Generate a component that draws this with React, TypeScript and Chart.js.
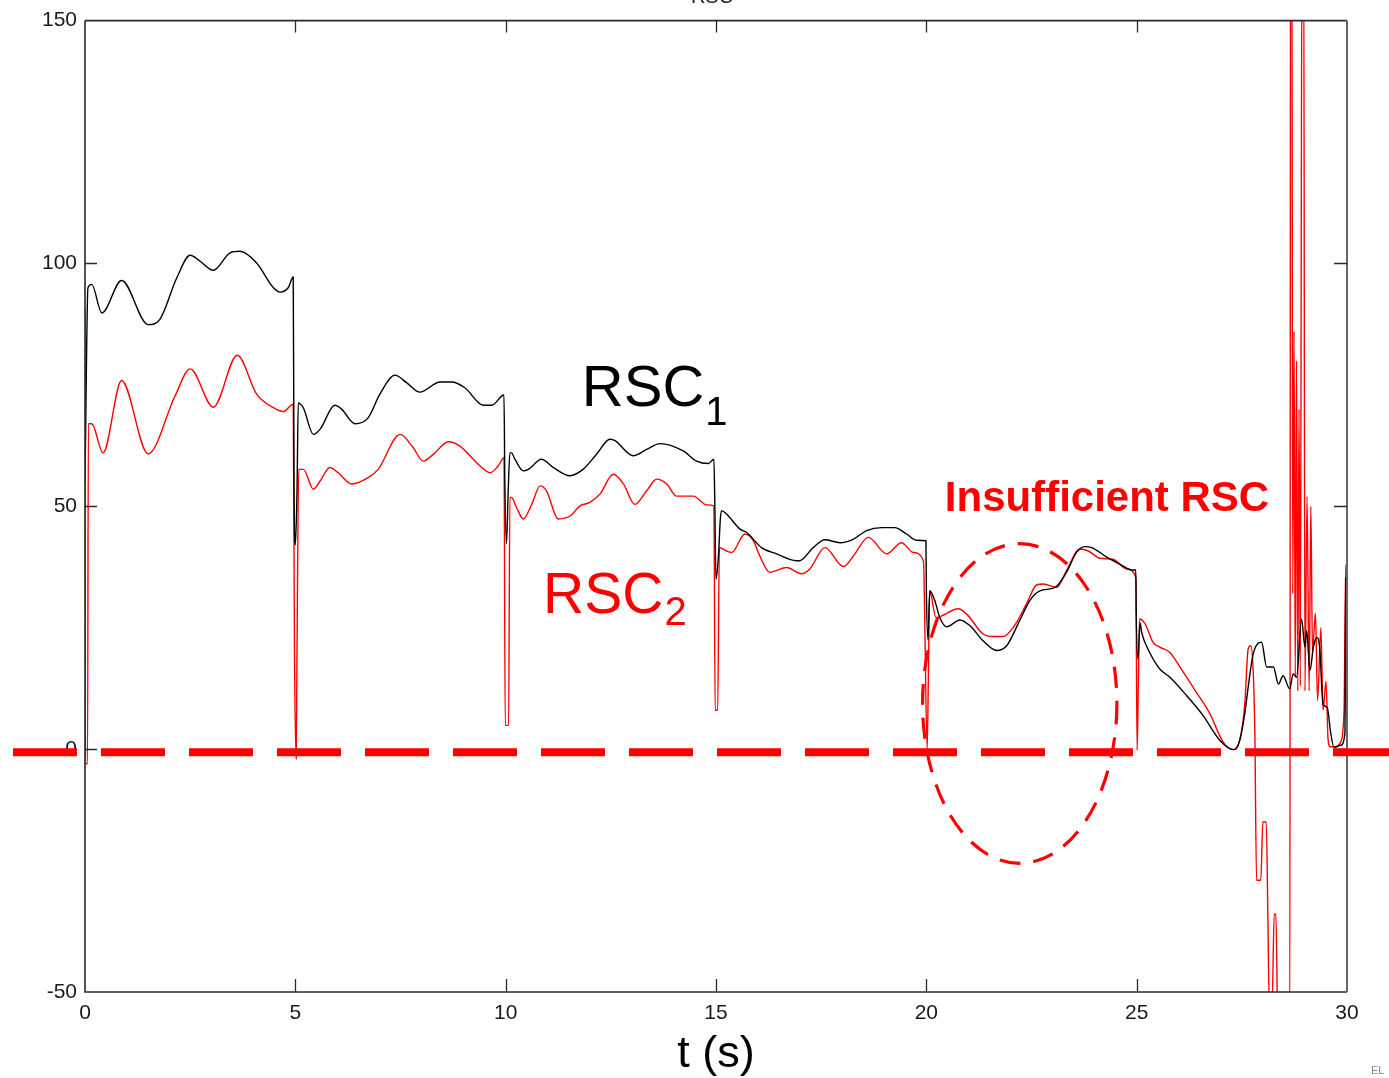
import React, { useEffect, useRef } from 'react';
import { Chart, registerables } from 'chart.js';

Chart.register(...registerables);

// ---- Data ----
const xTickValues = [0, 5, 10, 15, 20, 25, 30];
const yTickValues = [-50, 0, 50, 100, 150];

const rsc1T = [
  0, 0.07, 0.16, 0.40, 0.87, 1.50, 1.78, 2.18, 2.50, 2.73, 3.05, 3.45, 3.68, 4.08, 4.48, 4.64, 4.83, 4.95,
  4.97, 5.00, 5.04, 5.07, 5.11, 5.19, 5.43, 5.59, 5.94, 6.10, 6.42, 6.73, 7.01, 7.37, 7.65, 7.96, 8.44, 8.72,
  9.03, 9.47, 9.67, 9.96, 9.98, 10.02, 10.06, 10.10, 10.14, 10.22, 10.42, 10.54, 10.85, 11.13, 11.53, 11.84,
  12.16, 12.48, 12.60, 13.03, 13.35, 13.67, 14.22, 14.54, 14.82, 14.95, 14.97, 15.00, 15.06, 15.10, 15.13,
  15.25, 15.57, 15.73, 16.08, 16.44, 16.91, 16.99, 17.31, 17.59, 17.95, 18.26, 18.58, 18.94, 19.25, 19.53,
  19.77, 19.99, 20.00, 20.04, 20.08, 20.20, 20.32, 20.48, 20.80, 21.04, 21.35, 21.67, 21.91, 22.22, 22.46,
  22.70, 23.06, 23.33, 23.57, 23.77, 23.93, 24.28, 24.60, 24.88, 24.98, 24.99, 25.03, 25.08, 25.12, 25.31,
  25.55, 25.79, 26.19, 26.58, 26.98, 27.30, 27.45, 27.57, 27.65, 27.77, 27.97, 28.09, 28.25, 28.37, 28.48,
  28.64, 28.72, 28.80, 28.92, 29.00, 29.04, 29.12, 29.20, 29.29, 29.35, 29.43, 29.53, 29.61, 29.69, 29.85,
  29.95, 29.97, 30.00,
];
const rsc1V = [
  55, 95, 95.7, 89.8, 96.5, 87.4, 88.5, 97.0, 101.7, 100.5, 98.6, 102.2, 102.5, 100.1, 95.0, 94.1, 95.0, 97.2,
  53.2, 42, 53, 71.3, 71.1, 70.3, 64.8, 65.9, 70.8, 70.0, 67.0, 68.2, 73.1, 77.0, 75.4, 73.5, 75.6, 75.6,
  74.4, 70.8, 70.8, 72.9, 55.2, 42.3, 53, 61, 61.0, 59.7, 57.3, 57.6, 59.7, 58.0, 56.3, 57.6,
  60.7, 63.8, 63.5, 60.4, 61.7, 62.9, 61.4, 59.3, 58.8, 59.7, 51.5, 35, 40, 47, 49.1,
  48.4, 45.3, 44.6, 41.5, 40.2, 38.8, 38.8, 41.5, 43.1, 42.5, 43.2, 45.0, 45.6, 45.6, 44.3,
  43.0, 42.9, 33.3, 22.5, 32.6, 30.6, 27.1, 25.2, 26.6, 25.4, 22.3, 20.3, 21.3, 26.5, 30.6,
  32.6, 33.3, 36.4, 40.5, 41.7, 41.5, 39.6, 38.1, 36.9, 36.9, 27.9, 18.5, 26, 24.0, 19.9,
  16.5, 14.8, 11.0, 6.9, 1.8, -0.1, 1.8, 7.3, 12.7, 19.6, 22.0, 16.9, 16.9, 13.4, 15.1,
  12.4, 15.5, 14.8, 26.8, 21.0, 24.4, 16.2, 21.0, 23.0, 21.0, 9.3, 8.6, 3.5, 0.4, 0.8,
  3.2, 35.4, -6,
];

const rsc2T = [
  0, 0.01, 0.06, 0.08, 0.16, 0.43, 0.87, 1.50, 2.14, 2.50, 3.05, 3.62, 4.08, 4.48, 4.71, 4.95,
  4.98, 5.02, 5.04, 5.08, 5.19, 5.43, 5.59, 5.82, 6.02, 6.34, 6.73, 6.97, 7.49, 7.80, 8.04, 8.28, 8.64, 8.91,
  9.39, 9.63, 9.82, 9.96, 9.99, 10.07, 10.10, 10.14, 10.26, 10.42, 10.62, 10.82, 10.97, 11.25, 11.53, 11.77,
  12.00, 12.24, 12.56, 12.80, 13.07, 13.35, 13.59, 13.83, 14.06, 14.46, 14.78, 14.95, 14.98, 15.04, 15.08,
  15.25, 15.37, 15.69, 15.89, 16.04, 16.28, 16.68, 17.03, 17.23, 17.59, 18.03, 18.30, 18.62, 19.06, 19.41,
  19.69, 19.93, 20.02, 20.05, 20.08, 20.23, 20.76, 20.96, 21.35, 21.59, 21.83, 22.07, 22.38, 22.62, 22.78,
  23.10, 23.33, 23.65, 23.85, 24.13, 24.44, 24.76, 24.98, 25.01, 25.04, 25.07, 25.20, 25.39, 25.55, 25.79,
  26.03, 26.42, 26.74, 27.06, 27.30, 27.45, 27.57, 27.65, 27.71, 27.77, 27.81, 27.85, 27.95, 28.00, 28.08,
  28.12, 28.15, 28.22, 28.27, 28.31, 28.36, 28.64, 28.66, 28.69, 28.71, 28.74, 28.77, 28.80, 28.83, 28.86,
  28.89, 28.93, 28.97, 29.00, 29.05, 29.10, 29.14, 29.18, 29.25, 29.30, 29.38, 29.43, 29.50, 29.55, 29.60,
  29.75, 29.85, 29.93, 29.97, 30.00,
];
const rsc2V = [
  90.5, -3, -3, 67, 67, 61, 75.9, 60.8, 72.7, 78.3, 70.4, 81.1, 73.1, 70.3, 69.5, 71.0,
  20, -2, 20, 57.6, 57.6, 53.5, 55.2, 58.0, 56.9, 54.6, 55.9, 57.6, 64.8, 62.1, 59.3, 60.7, 63.3, 62.4,
  58.3, 56.9, 58.3, 60.0, 4.9, 4.9, 51.8, 51.8, 49.7, 47.4, 50.4, 54.2, 53.2, 47.4, 48.0, 50.1,
  50.8, 52.5, 56.6, 54.6, 50.4, 53.2, 55.6, 54.6, 52.1, 52.1, 50.3, 50.1, 8.0, 8.0, 41.5,
  40.8, 40.5, 44.3, 42.9, 39.8, 36.4, 37.4, 36.1, 37.1, 41.5, 37.6, 40.2, 43.6, 40.2, 42.5,
  40.5, 38.8, 0, 16, 32.5, 27.1, 28.9, 27.8, 23.7, 23.2, 23.2, 25.1, 29.9, 33.8, 34.0,
  33.3, 36.7, 41.2, 40.8, 39.3, 39.1, 37.1, 35.4, -0.2, 13.5, 26.8, 25.8, 22.0, 21.0, 19.9,
  16.9, 11.7, 7.3, 1.4, -0.1, 1.8, 9.3, 20.6, 21.3, 16.2, 3, -27, -27, -15, -15,
  -35, -52, -52, -34, -34, -60, -60, 170, 170, 32, 86, 15, 80, 12, 70,
  13, 170, 170, 12, 52, 12, 50, 20, 28, 10, 25, 8, 14, 2, 0.5,
  0.5, 1.5, 8, 38, 38,
];

// annotation anchors (data units)
const rsc1Label = { t: 11.81, v: 70.6 };
const rsc2Label = { t: 10.89, v: 28.1 };
const insufficientLabel = { t: 20.44, v: 49.1 };
const ellipse = { t: 22.22, v: 9.4, rt: 2.31, rv: 32.9 };
const thresholdValue = 0;

const FONT = '"Liberation Sans", Arial, sans-serif';

const overlayPlugin = {
  id: 'overlay',
  afterDraw(chart: any) {
    const { ctx, chartArea: a, scales } = chart;
    const x = scales.x;
    const y = scales.y;
    ctx.save();

    // frame (box)
    ctx.strokeStyle = '#2a2a2a';
    ctx.lineWidth = 1.6;
    ctx.beginPath();
    ctx.moveTo(a.left, a.top);
    ctx.lineTo(a.right, a.top);
    ctx.moveTo(a.left, a.top);
    ctx.lineTo(a.left, a.bottom);
    ctx.lineTo(a.right, a.bottom);
    ctx.stroke();
    ctx.strokeStyle = '#666';
    ctx.lineWidth = 2;
    ctx.beginPath();
    ctx.moveTo(a.right, a.top);
    ctx.lineTo(a.right, a.bottom);
    ctx.stroke();

    // inward ticks
    ctx.strokeStyle = '#2a2a2a';
    ctx.lineWidth = 1.3;
    ctx.beginPath();
    for (const t of xTickValues) {
      const px = Math.round(x.getPixelForValue(t)) + 0.5;
      if (px <= a.left + 2 || px >= a.right - 2) continue;
      ctx.moveTo(px, a.bottom);
      ctx.lineTo(px, a.bottom - 13);
      ctx.moveTo(px, a.top);
      ctx.lineTo(px, a.top + 12);
    }
    for (const v of yTickValues) {
      const py = Math.round(y.getPixelForValue(v)) + 0.5;
      if (py <= a.top + 2 || py >= a.bottom - 2) continue;
      ctx.moveTo(a.left, py);
      ctx.lineTo(a.left + 12, py);
      ctx.moveTo(a.right, py);
      ctx.lineTo(a.right - 13, py);
    }
    ctx.stroke();

    // partial title at very top
    ctx.fillStyle = '#222';
    ctx.font = `20px ${FONT}`;
    ctx.textAlign = 'center';
    ctx.textBaseline = 'alphabetic';
    ctx.fillText('RSC', (a.left + a.right) / 2 - 4, 3);

    // RSC1 label
    ctx.textAlign = 'left';
    ctx.fillStyle = '#000';
    let lx = x.getPixelForValue(rsc1Label.t);
    let ly = y.getPixelForValue(rsc1Label.v);
    ctx.font = `58px ${FONT}`;
    ctx.fillText('RSC', lx, ly);
    let w = ctx.measureText('RSC').width;
    ctx.font = `40px ${FONT}`;
    ctx.fillText('1', lx + w + 1, ly + 19);

    // RSC2 label
    ctx.fillStyle = '#ff0000';
    lx = x.getPixelForValue(rsc2Label.t);
    ly = y.getPixelForValue(rsc2Label.v);
    ctx.font = `57px ${FONT}`;
    ctx.fillText('RSC', lx, ly);
    w = ctx.measureText('RSC').width;
    ctx.font = `40px ${FONT}`;
    ctx.fillText('2', lx + w + 1, ly + 12);

    // Insufficient RSC
    lx = x.getPixelForValue(insufficientLabel.t);
    ly = y.getPixelForValue(insufficientLabel.v);
    ctx.font = `bold 42px ${FONT}`;
    ctx.fillText('Insufficient RSC', lx, ly);

    // dashed ellipse
    const cx = x.getPixelForValue(ellipse.t);
    const cy = y.getPixelForValue(ellipse.v);
    const rx = x.getPixelForValue(ellipse.t + ellipse.rt) - cx;
    const ry = cy - y.getPixelForValue(ellipse.v + ellipse.rv);
    ctx.strokeStyle = '#ff0000';
    ctx.lineWidth = 3.2;
    ctx.setLineDash([21, 13]);
    ctx.beginPath();
    ctx.ellipse(cx, cy, rx, ry, 0, 0, Math.PI * 2);
    ctx.stroke();

    // thick dashed threshold line spanning the whole width
    const ty = y.getPixelForValue(thresholdValue) + 3;
    ctx.lineWidth = 8;
    ctx.setLineDash([64, 24]);
    ctx.lineDashOffset = 0;
    ctx.beginPath();
    ctx.moveTo(13, ty);
    ctx.lineTo(chart.width, ty);
    ctx.stroke();
    ctx.setLineDash([]);

    // small watermark
    ctx.fillStyle = '#888';
    ctx.font = `11px ${FONT}`;
    ctx.textAlign = 'left';
    ctx.fillText('EL', 1371, 1074);

    ctx.restore();
  },
};

export default function App() {
  const canvasRef = useRef<HTMLCanvasElement | null>(null);

  useEffect(() => {
    const canvas = canvasRef.current;
    if (!canvas) return;
    const black = rsc1T.map((t, i) => ({ x: t, y: rsc1V[i] }));
    const red = rsc2T.map((t, i) => ({ x: t, y: rsc2V[i] }));
    const tickFont = { family: FONT, size: 21 };
    const chart = new Chart(canvas, {
      type: 'line',
      data: {
        datasets: [
          {
            label: 'RSC1',
            data: black,
            borderColor: '#000000',
            borderWidth: 1.4,
            pointRadius: 0,
            cubicInterpolationMode: 'monotone',
            fill: false,
          },
          {
            label: 'RSC2',
            data: red,
            borderColor: '#ff0000',
            borderWidth: 1.4,
            pointRadius: 0,
            cubicInterpolationMode: 'monotone',
            fill: false,
          },
        ],
      },
      options: {
        animation: false,
        responsive: false,
        devicePixelRatio: 1,
        layout: { padding: { top: 19, right: 42, left: 0, bottom: 0 } },
        plugins: {
          legend: { display: false },
          tooltip: { enabled: false },
          title: { display: false },
        },
        scales: {
          x: {
            type: 'linear',
            min: 0,
            max: 30,
            grid: { display: false, drawTicks: false },
            border: { display: false },
            ticks: {
              stepSize: 5,
              padding: 9,
              font: tickFont,
              color: '#1a1a1a',
              maxRotation: 0,
              autoSkip: false,
            },
            title: {
              display: true,
              text: 't (s)',
              color: '#000',
              font: { family: FONT, size: 45, lineHeight: 1 },
              padding: { top: 0, bottom: 1 },
            },
            afterFit: (s: any) => {
              s.height = 86;
            },
          },
          y: {
            type: 'linear',
            min: -50,
            max: 150,
            grid: { display: false, drawTicks: false },
            border: { display: false },
            ticks: {
              stepSize: 50,
              padding: 8,
              font: tickFont,
              color: '#1a1a1a',
            },
            afterFit: (s: any) => {
              s.width = 85;
            },
          },
        },
      },
      plugins: [overlayPlugin],
    });
    return () => chart.destroy();
  }, []);

  return (
    <div style={{ position: 'absolute', left: 0, top: 0, width: 1389, height: 1078, background: '#fff' }}>
      <canvas ref={canvasRef} width={1389} height={1078} style={{ display: 'block' }} />
    </div>
  );
}
